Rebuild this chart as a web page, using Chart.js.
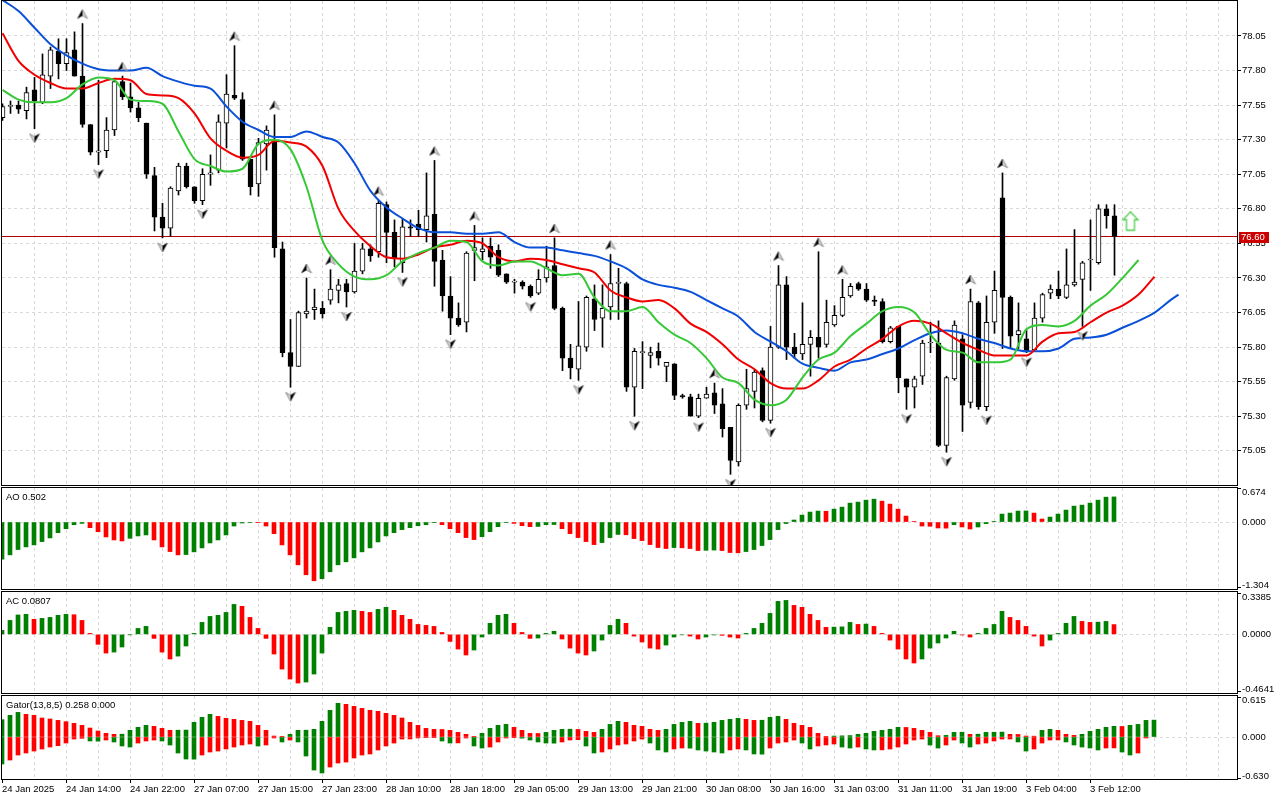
<!DOCTYPE html>
<html>
<head>
<meta charset="utf-8">
<title>H1 chart with Alligator, AO, AC, Gator</title>
<script src="https://cdn.jsdelivr.net/npm/chart.js"></script>
<style>
  html, body { margin: 0; padding: 0; background: #fff; }
  #chart { position: relative; width: 1280px; height: 800px; overflow: hidden; }
  #chart canvas { position: absolute; left: 0; }
  .title { position: absolute; left: 6px; font: 9.5px "Liberation Sans", Arial, sans-serif; line-height: 11px; white-space: nowrap; color: #000; }
</style>
</head>
<body>
<div id="chart">
  <canvas id="price" width="1280" height="486" style="top:0"></canvas>
  <canvas id="ao" width="1280" height="104" style="top:486px"></canvas>
  <canvas id="ac" width="1280" height="104" style="top:590px"></canvas>
  <canvas id="gator" width="1280" height="106" style="top:694px"></canvas>
  <div class="title" id="t0" style="top:491px"></div>
  <div class="title" id="t1" style="top:595px"></div>
  <div class="title" id="t2" style="top:699px"></div>
</div>

<script>
  // one label every 8 bars, starting at bar 0
  const timeLabels = ['24 Jan 2025', '24 Jan 14:00', '24 Jan 22:00', '27 Jan 07:00', '27 Jan 15:00', '27 Jan 23:00',
    '28 Jan 10:00', '28 Jan 18:00', '29 Jan 05:00', '29 Jan 13:00', '29 Jan 21:00', '30 Jan 08:00',
    '30 Jan 16:00', '31 Jan 03:00', '31 Jan 11:00', '31 Jan 19:00', '3 Feb 04:00', '3 Feb 12:00'];
  const priceTicks = [78.05, 77.80, 77.55, 77.30, 77.05, 76.80, 76.55, 76.30, 76.05, 75.80, 75.55, 75.30, 75.05];
  const panelTitles = ['AO 0.502', 'AC 0.0807', 'Gator(13,8,5) 0.258 0.000'];
  const aoAxis = ['0.674', '0.000', '-1.304'];
  const acAxis = ['0.3385', '0.0000', '-0.4641'];
  const gatorAxis = ['0.615', '0.000', '-0.630'];

  const open = [
    77.46, 77.54, 77.55, 77.51, 77.66, 77.57, 77.76, 77.94, 77.85, 77.95,
    77.76, 77.41, 77.21, 77.22, 77.37, 77.72, 77.61, 77.53, 77.42, 77.04,
    76.74, 76.66, 76.93, 77.11, 76.96, 76.86, 77.05, 77.08, 77.42, 77.62,
    77.59, 77.16, 76.98, 77.27, 77.29, 76.51, 75.76, 75.66, 76.04, 76.07,
    76.08, 76.14, 76.21, 76.26, 76.20, 76.35, 76.51, 76.49, 76.83, 76.63,
    76.41, 76.67, 76.69, 76.65, 76.76, 76.43, 76.17, 76.01, 75.98, 76.50,
    76.49, 76.53, 76.50, 76.33, 76.27, 76.27, 76.24, 76.19, 76.30, 76.39,
    76.08, 75.72, 75.64, 75.80, 76.15, 76.01, 76.09, 76.26, 76.26, 75.51,
    75.76, 75.74, 75.77, 75.66, 75.68, 75.45, 75.44, 75.30, 75.43, 75.47,
    75.39, 75.22, 74.97, 75.38, 75.48, 75.63, 75.27, 75.80, 76.25, 75.80,
    75.75, 75.82, 75.87, 75.82, 75.96, 76.03, 76.17, 76.26, 76.22, 76.14,
    76.13, 75.84, 75.95, 75.57, 75.51, 75.59, 75.83, 75.83, 75.09, 75.57,
    75.86, 75.40, 76.12, 75.37, 75.98, 76.88, 76.16, 75.89, 75.86, 75.78,
    76.01, 76.19, 76.22, 76.16, 76.25, 76.29, 76.43, 76.41, 76.80, 76.75];
  const high = [
    77.56, 77.58, 77.58, 77.68, 77.75, 77.92, 77.97, 78.03, 78.03, 78.08,
    78.14, 77.41, 77.73, 77.46, 77.74, 77.76, 77.71, 77.57, 77.42, 77.10,
    76.84, 76.96, 77.13, 77.13, 76.96, 77.09, 77.19, 77.48, 77.77, 77.98,
    77.64, 77.16, 77.31, 77.40, 77.48, 76.56, 76.00, 76.06, 76.30, 76.22,
    76.13, 76.36, 76.29, 76.29, 76.55, 76.55, 76.54, 76.86, 76.85, 76.72,
    76.73, 76.72, 76.79, 77.06, 77.15, 76.50, 76.31, 76.12, 76.49, 76.68,
    76.59, 76.59, 76.54, 76.33, 76.29, 76.28, 76.25, 76.36, 76.53, 76.59,
    76.09, 75.82, 76.13, 76.17, 76.25, 76.25, 76.47, 76.37, 76.27, 75.79,
    75.84, 75.80, 75.83, 75.69, 75.68, 75.46, 75.46, 75.46, 75.51, 75.54,
    75.50, 75.22, 75.39, 75.64, 75.64, 75.65, 75.95, 76.39, 76.31, 75.90,
    76.12, 75.92, 76.49, 76.14, 76.10, 76.29, 76.26, 76.27, 76.26, 76.17,
    76.15, 75.95, 75.95, 75.57, 75.59, 75.85, 75.98, 75.99, 75.59, 75.99,
    75.89, 76.22, 76.13, 76.17, 76.35, 77.06, 76.17, 76.12, 75.92, 76.12,
    76.19, 76.25, 76.35, 76.51, 76.65, 76.42, 76.72, 76.83, 76.83, 76.83];
  const low = [
    77.44, 77.49, 77.49, 77.45, 77.38, 77.56, 77.67, 77.74, 77.80, 77.76,
    77.39, 77.19, 77.12, 77.17, 77.33, 77.59, 77.50, 77.43, 77.02, 76.64,
    76.59, 76.60, 76.90, 76.95, 76.84, 76.83, 76.97, 77.06, 77.24, 77.59,
    77.15, 76.90, 76.89, 77.08, 76.45, 75.73, 75.51, 75.66, 76.01, 76.00,
    76.01, 76.11, 76.12, 76.09, 76.19, 76.33, 76.42, 76.45, 76.41, 76.38,
    76.34, 76.60, 76.60, 76.56, 76.24, 76.06, 75.89, 75.95, 75.91, 76.28,
    76.43, 76.37, 76.31, 76.26, 76.19, 76.22, 76.16, 76.18, 76.27, 76.07,
    75.63, 75.57, 75.56, 75.77, 75.92, 75.80, 76.00, 76.00, 75.48, 75.30,
    75.50, 75.65, 75.67, 75.55, 75.42, 75.43, 75.30, 75.29, 75.43, 75.32,
    75.15, 74.88, 74.94, 75.35, 75.36, 75.26, 75.25, 75.79, 75.71, 75.72,
    75.71, 75.59, 75.72, 75.80, 75.95, 76.02, 76.16, 76.21, 76.13, 76.10,
    75.83, 75.83, 75.47, 75.35, 75.36, 75.53, 75.76, 75.08, 75.04, 75.56,
    75.19, 75.36, 75.35, 75.34, 75.90, 75.79, 75.79, 75.79, 75.76, 75.78,
    75.98, 76.15, 76.15, 76.15, 76.24, 75.95, 76.21, 76.40, 76.66, 76.32];
  const close = [
    77.54, 77.55, 77.52, 77.64, 77.58, 77.77, 77.95, 77.85, 77.93, 77.76,
    77.41, 77.21, 77.22, 77.37, 77.72, 77.61, 77.53, 77.46, 77.05, 76.74,
    76.66, 76.95, 77.11, 76.96, 76.86, 77.05, 77.06, 77.43, 77.63, 77.60,
    77.16, 76.96, 77.28, 77.37, 76.52, 75.76, 75.66, 76.05, 76.06, 76.09,
    76.04, 76.22, 76.25, 76.20, 76.35, 76.51, 76.46, 76.84, 76.63, 76.44,
    76.67, 76.66, 76.65, 76.75, 76.42, 76.17, 76.01, 75.96, 76.48, 76.52,
    76.51, 76.45, 76.32, 76.27, 76.27, 76.24, 76.17, 76.29, 76.38, 76.08,
    75.72, 75.65, 75.81, 76.16, 76.00, 76.08, 76.26, 76.27, 75.51, 75.77,
    75.76, 75.76, 75.72, 75.69, 75.45, 75.44, 75.30, 75.43, 75.46, 75.38,
    75.21, 74.98, 75.38, 75.50, 75.62, 75.27, 75.80, 76.25, 75.80, 75.75,
    75.82, 75.87, 75.80, 75.98, 76.03, 76.16, 76.24, 76.22, 76.14, 76.13,
    75.84, 75.94, 75.58, 75.51, 75.57, 75.83, 75.83, 75.09, 75.58, 75.96,
    75.38, 76.13, 75.37, 75.98, 76.21, 76.16, 75.88, 75.92, 75.77, 76.01,
    76.18, 76.22, 76.17, 76.25, 76.27, 76.41, 76.43, 76.80, 76.75, 76.60];

  // alligator, read every 2nd bar starting at bar 0 (already shifted forward)
  const jaw = [
    78.31, 78.23, 78.11, 77.99, 77.91, 77.85, 77.81, 77.80, 77.80, 77.82,
    77.76, 77.72, 77.69, 77.67, 77.54, 77.43, 77.37, 77.32, 77.32, 77.36,
    77.32, 77.28, 77.13, 76.93, 76.81, 76.73, 76.66, 76.63, 76.63, 76.62,
    76.62, 76.63, 76.56, 76.52, 76.52, 76.50, 76.48, 76.46, 76.42, 76.37,
    76.29, 76.25, 76.23, 76.20, 76.14, 76.08, 76.02, 75.91, 75.84, 75.77,
    75.68, 75.65, 75.63, 75.69, 75.71, 75.75, 75.79, 75.85, 75.90, 75.92,
    75.90, 75.86, 75.83, 75.79, 75.77, 75.77, 75.79, 75.86, 75.87, 75.89,
    75.94, 75.99, 76.05, 76.14];
  const jawEnd = 76.18;   // bar 147
  const teeth = [
    78.07, 77.87, 77.77, 77.71, 77.67, 77.67, 77.71, 77.74, 77.73, 77.63,
    77.62, 77.60, 77.49, 77.31, 77.22, 77.17, 77.19, 77.29, 77.28, 77.25,
    77.11, 76.80, 76.64, 76.53, 76.45, 76.44, 76.47, 76.52, 76.54, 76.57,
    76.55, 76.45, 76.42, 76.44, 76.43, 76.40, 76.37, 76.34, 76.21, 76.16,
    76.13, 76.14, 76.08, 75.97, 75.91, 75.82, 75.71, 75.64, 75.54, 75.50,
    75.50, 75.56, 75.66, 75.71, 75.79, 75.86, 75.95, 75.99, 75.97, 75.90,
    75.83, 75.78, 75.74, 75.74, 75.74, 75.84, 75.90, 75.91, 75.98, 76.05,
    76.10, 76.18, 76.31];
  const lips = [
    77.66, 77.59, 77.57, 77.57, 77.60, 77.70, 77.75, 77.73, 77.59, 77.58,
    77.56, 77.36, 77.16, 77.11, 77.07, 77.09, 77.27, 77.30, 77.23, 76.96,
    76.57, 76.40, 76.31, 76.29, 76.32, 76.42, 76.48, 76.52, 76.57, 76.56,
    76.42, 76.39, 76.42, 76.42, 76.37, 76.32, 76.33, 76.16, 76.06, 76.06,
    76.09, 75.98, 75.89, 75.83, 75.72, 75.58, 75.54, 75.42, 75.38, 75.42,
    75.58, 75.71, 75.76, 75.88, 75.97, 76.06, 76.09, 76.05, 75.89, 75.78,
    75.76, 75.69, 75.69, 75.71, 75.93, 75.96, 75.95, 75.99, 76.10, 76.18,
    76.30, 76.43];

  const fractalUp = [10, 15, 29, 34, 38, 41, 47, 54, 59, 69, 76, 89, 97, 102, 105, 121, 125];
  const fractalDown = [4, 12, 20, 25, 36, 43, 50, 56, 66, 72, 79, 87, 91, 96, 113, 118, 123, 128, 135];
  const signalBar = 141;
  const signalPrice = 76.71;

  const ao = [
    -0.742, -0.656, -0.550, -0.497, -0.457, -0.391, -0.318, -0.212, -0.133, -0.053,
    -0.027, -0.113, -0.192, -0.298, -0.358, -0.378, -0.325, -0.278, -0.258, -0.358,
    -0.497, -0.590, -0.656, -0.650, -0.596, -0.517, -0.418, -0.358, -0.258, -0.080,
    -0.020, -0.012, -0.013, -0.080, -0.232, -0.457, -0.656, -0.855, -1.054, -1.173,
    -1.133, -0.994, -0.855, -0.795, -0.716, -0.596, -0.517, -0.398, -0.278, -0.212,
    -0.152, -0.113, -0.073, -0.053, -0.013, -0.053, -0.133, -0.212, -0.311, -0.351,
    -0.292, -0.192, -0.093, -0.013, -0.027, -0.073, -0.093, -0.088, -0.053, -0.050,
    -0.133, -0.232, -0.311, -0.391, -0.451, -0.411, -0.311, -0.248, -0.255, -0.331,
    -0.371, -0.451, -0.510, -0.530, -0.510, -0.515, -0.530, -0.570, -0.565, -0.560,
    -0.570, -0.610, -0.615, -0.590, -0.550, -0.470, -0.351, -0.152, -0.030, 0.040,
    0.139, 0.199, 0.219, 0.215, 0.258, 0.298, 0.378, 0.398, 0.437, 0.457,
    0.417, 0.358, 0.258, 0.119, 0.007, -0.080, -0.085, -0.119, -0.122, -0.053,
    -0.099, -0.139, -0.099, -0.033, 0.007, 0.159, 0.179, 0.219, 0.222, 0.179,
    0.060, 0.099, 0.159, 0.239, 0.318, 0.338, 0.378, 0.437, 0.497, 0.502];
  const ac = [
    0.033, 0.115, 0.160, 0.165, 0.124, 0.132, 0.140, 0.157, 0.165, 0.162,
    0.115, 0.008, -0.082, -0.154, -0.146, -0.104, -0.003, 0.049, 0.066, -0.033,
    -0.146, -0.203, -0.179, -0.096, 0.008, 0.099, 0.148, 0.157, 0.181, 0.247,
    0.231, 0.140, 0.049, -0.033, -0.162, -0.286, -0.368, -0.401, -0.393, -0.327,
    -0.154, 0.058, 0.181, 0.190, 0.198, 0.190, 0.181, 0.206, 0.223, 0.198,
    0.157, 0.124, 0.082, 0.074, 0.066, 0.016, -0.058, -0.121, -0.170, -0.129,
    -0.022, 0.091, 0.157, 0.165, 0.091, 0.016, -0.033, -0.030, 0.008, 0.025,
    -0.038, -0.113, -0.154, -0.170, -0.137, -0.047, 0.074, 0.124, 0.091, -0.014,
    -0.063, -0.113, -0.121, -0.088, -0.022, -0.004, -0.014, -0.038, -0.022, -0.005,
    -0.008, -0.022, -0.030, 0.008, 0.049, 0.091, 0.173, 0.272, 0.280, 0.239,
    0.223, 0.165, 0.115, 0.058, 0.060, 0.062, 0.099, 0.082, 0.085, 0.066,
    0.008, -0.047, -0.121, -0.203, -0.236, -0.203, -0.113, -0.071, -0.030, 0.025,
    -0.005, -0.022, 0.008, 0.049, 0.082, 0.190, 0.140, 0.115, 0.066, -0.014,
    -0.096, -0.047, 0.008, 0.091, 0.148, 0.107, 0.099, 0.101, 0.107, 0.0807];
  const gatorUp = [
    0.265, 0.331, 0.376, 0.346, 0.331, 0.290, 0.275, 0.254, 0.234, 0.209,
    0.178, 0.137, 0.092, 0.056, 0.041, 0.043, 0.102, 0.148, 0.178, 0.163,
    0.132, 0.102, 0.104, 0.106, 0.224, 0.300, 0.346, 0.315, 0.285, 0.270,
    0.254, 0.239, 0.178, 0.102, 0.015, 0.010, 0.041, 0.102, 0.104, 0.117,
    0.239, 0.407, 0.514, 0.499, 0.468, 0.437, 0.407, 0.392, 0.361, 0.331,
    0.290, 0.224, 0.178, 0.132, 0.117, 0.115, 0.102, 0.071, 0.041, 0.010,
    0.056, 0.132, 0.178, 0.193, 0.148, 0.102, 0.056, 0.054, 0.071, 0.102,
    0.117, 0.119, 0.115, 0.087, 0.071, 0.117, 0.193, 0.239, 0.224, 0.178,
    0.163, 0.117, 0.102, 0.117, 0.193, 0.224, 0.239, 0.209, 0.211, 0.224,
    0.254, 0.270, 0.285, 0.270, 0.254, 0.256, 0.300, 0.315, 0.270, 0.209,
    0.178, 0.148, 0.056, 0.005, 0.015, 0.018, 0.022, 0.041, 0.056, 0.087,
    0.102, 0.117, 0.148, 0.146, 0.132, 0.102, 0.071, 0.020, 0.025, 0.071,
    0.073, 0.041, 0.043, 0.071, 0.073, 0.075, 0.041, 0.039, 0.015, 0.013,
    0.102, 0.117, 0.102, 0.041, 0.025, 0.041, 0.087, 0.117, 0.148, 0.163,
    0.161, 0.178, 0.193, 0.254, 0.258];
  const gatorDown = [
    -0.412, -0.351, -0.275, -0.244, -0.214, -0.183, -0.153, -0.132, -0.092, -0.031,
    -0.020, -0.061, -0.063, -0.046, -0.076, -0.137, -0.153, -0.092, -0.061, -0.046,
    -0.061, -0.122, -0.244, -0.336, -0.338, -0.275, -0.229, -0.214, -0.183, -0.153,
    -0.122, -0.107, -0.137, -0.122, -0.015, -0.076, -0.046, -0.076, -0.290, -0.504,
    -0.549, -0.458, -0.397, -0.382, -0.320, -0.275, -0.259, -0.198, -0.137, -0.092,
    -0.031, -0.030, -0.015, -0.010, -0.010, -0.061, -0.092, -0.090, -0.015, -0.137,
    -0.168, -0.153, -0.076, -0.015, -0.003, -0.018, -0.046, -0.076, -0.092, -0.094,
    -0.076, -0.046, -0.040, -0.137, -0.244, -0.229, -0.183, -0.122, -0.107, -0.061,
    -0.031, -0.092, -0.198, -0.229, -0.183, -0.168, -0.170, -0.198, -0.214, -0.229,
    -0.244, -0.198, -0.183, -0.198, -0.259, -0.262, -0.168, -0.092, -0.076, -0.046,
    -0.092, -0.183, -0.137, -0.122, -0.107, -0.153, -0.168, -0.153, -0.183, -0.198,
    -0.196, -0.183, -0.153, -0.107, -0.046, -0.031, -0.122, -0.168, -0.122, -0.046,
    -0.092, -0.153, -0.107, -0.092, -0.061, -0.031, -0.030, -0.076, -0.214, -0.183,
    -0.092, -0.046, -0.044, -0.076, -0.122, -0.153, -0.168, -0.198, -0.168, -0.166,
    -0.229, -0.275, -0.244, -0.015];

  const GREEN = '#008000';
  const RED = '#ff0000';
  const GRID = '#d9d9d9';
  const FONT_FAMILY = '"Liberation Sans", Arial, sans-serif';
  const FONT = '9.5px ' + FONT_FAMILY;
  const BAR_PX = 8;
  const PLOT_W = 1235;

  Chart.defaults.font.family = FONT_FAMILY;
  Chart.defaults.font.size = 9.5;
  Chart.defaults.color = '#000';

  const frame = {
    id: 'frame',
    afterDraw(chart) {
      const { ctx, chartArea: a } = chart;
      ctx.save();
      ctx.strokeStyle = '#000';
      ctx.lineWidth = 1;
      ctx.strokeRect(a.left - 0.5, a.top - 0.5, a.right - a.left + 1, a.bottom - a.top + 1);
      ctx.restore();
    }
  };

  // min/zero/max labels on the right of an indicator panel
  const sideLabels = (labels) => ({
    id: 'sideLabels',
    afterDraw(chart) {
      const { ctx, chartArea: a, scales: { y } } = chart;
      ctx.save();
      ctx.font = FONT;
      ctx.fillStyle = '#000';
      ctx.strokeStyle = '#000';
      labels.forEach((txt, i) => {
        const py = y.getPixelForValue(parseFloat(txt));
        if (i === 0) {
          ctx.textBaseline = 'top';
          ctx.fillText(txt, a.right + 5, py - 1);
        } else if (i === labels.length - 1) {
          ctx.textBaseline = 'bottom';
          ctx.fillText(txt, a.right + 5, py + 3);
        } else {
          ctx.textBaseline = 'middle';
          ctx.fillText(txt, a.right + 5, py);
        }
        if (i !== 1) {
          const yy = Math.round(py) + 0.5;
          ctx.beginPath();
          ctx.moveTo(a.right, yy);
          ctx.lineTo(a.right + 4, yy);
          ctx.stroke();
        }
      });
      ctx.restore();
    }
  });

  const priceTag = {
    id: 'priceTag',
    afterDraw(chart) {
      const { ctx, chartArea: a, scales: { y } } = chart;
      const last = close[close.length - 1];
      const py = Math.round(y.getPixelForValue(last));
      ctx.save();
      ctx.fillStyle = '#cc0000';
      ctx.fillRect(a.right + 2, py - 5, 30, 11);
      ctx.fillStyle = '#fff';
      ctx.font = FONT;
      ctx.textBaseline = 'middle';
      ctx.fillText(last.toFixed(2), a.right + 4, py + 0.5);
      ctx.restore();
    }
  };

  function xScale(min, showLabels) {
    const max = min + PLOT_W / BAR_PX;
    return {
      type: 'linear', min, max, offset: false,
      afterBuildTicks: s => {
        const t = [];
        for (let v = 0; v <= max; v += 4) t.push({ value: v });
        s.ticks = t;
      },
      grid: {
        offset: false,
        lineWidth: 1,
        color: c => (c.tick && c.tick.value === 0) ? 'rgba(0,0,0,0)' : GRID,
        drawTicks: showLabels,
        tickLength: 4,
        tickBorderDash: [],
        tickColor: c => (c.tick && c.tick.value % 8 === 0 && timeLabels[c.tick.value / 8]) ? '#000' : 'rgba(0,0,0,0)'
      },
      border: { display: false, dash: [3, 3] },
      ticks: {
        display: showLabels, autoSkip: false, maxRotation: 0, minRotation: 0, align: 'start', padding: 1,
        font: { size: 9.5 }, color: '#000',
        callback: v => (v % 8 === 0 && timeLabels[v / 8]) ? timeLabels[v / 8] : ''
      },
      afterFit: s => {
        s.height = showLabels ? 21 : 0;
        s.paddingLeft = 0; s.paddingRight = 0;
      }
    };
  }

  // fixed-width right axis, no extra room for half labels
  const fitRightAxis = s => {
    s.width = 43;
    s.paddingTop = 0; s.paddingBottom = 0;
  };

  const base = {
    responsive: false,
    animation: false,
    devicePixelRatio: 1,
    events: [],
    plugins: { legend: { display: false }, tooltip: { enabled: false } }
  };

  function arrowIcon(up) {
    const c = document.createElement('canvas');
    c.width = 12; c.height = 40;
    const g = c.getContext('2d');
    const d = up ? 1 : -1;
    g.translate(6, up ? 11 : 29);
    g.beginPath();
    g.moveTo(0, -5 * d); g.lineTo(5, 4 * d); g.lineTo(0, 1 * d); g.lineTo(-5, 4 * d); g.closePath();
    g.fillStyle = '#d4d4d4'; g.fill();
    g.strokeStyle = '#909090'; g.lineWidth = 1; g.stroke();
    g.beginPath();
    g.moveTo(0, -5 * d); g.lineTo(up ? -5 : 5, 4 * d); g.lineTo(0, 1 * d); g.closePath();
    g.fillStyle = '#000'; g.fill();
    return c;
  }

  function signalIcon() {
    const c = document.createElement('canvas');
    c.width = 20; c.height = 22;
    const g = c.getContext('2d');
    g.translate(10, 11);
    g.beginPath();
    g.moveTo(0, -9.5); g.lineTo(7.5, -1.5); g.lineTo(4, -1.5); g.lineTo(4, 9); g.lineTo(-4, 9);
    g.lineTo(-4, -1.5); g.lineTo(-7.5, -1.5); g.closePath();
    g.strokeStyle = '#4fcf4f'; g.lineWidth = 1.3; g.stroke();
    return c;
  }

  // ---------- price panel ----------
  const P_MIN = -0.0625;
  const P_MAX = P_MIN + PLOT_W / BAR_PX;
  const bars = close.map((_, k) => k);
  const alligator = (vals, color, order, end) => {
    const pts = vals.map((v, i) => ({ x: i * 2, y: v }));
    if (end) pts.push(end);
    return {
      type: 'line', data: pts, borderColor: color, borderWidth: 2, pointRadius: 0,
      cubicInterpolationMode: 'monotone', order
    };
  };

  new Chart(document.getElementById('price'), {
    type: 'bar',
    data: {
      datasets: [
        {
          type: 'line', order: 7, borderColor: '#b40000', borderWidth: 1, pointRadius: 0,
          data: [{ x: P_MIN, y: close[close.length - 1] }, { x: P_MAX, y: close[close.length - 1] }]
        },
        {
          type: 'bar', order: 6, grouped: false, barThickness: 1, backgroundColor: '#000', borderWidth: 0,
          data: bars.map(k => ({ x: k, y: [low[k], high[k]] }))
        },
        {
          type: 'bar', order: 5, grouped: false, barThickness: 5, minBarLength: 1,
          borderWidth: 1, borderColor: '#000', borderSkipped: false,
          backgroundColor: bars.map(k => close[k] >= open[k] ? '#fff' : '#000'),
          data: bars.map(k => ({ x: k, y: [open[k], close[k]] }))
        },
        alligator(jaw, '#0b50d8', 4, { x: 147, y: jawEnd }),
        alligator(teeth, '#f00000', 3),
        alligator(lips, '#36c836', 2),
        {
          type: 'line', order: 1, showLine: false, pointRadius: 5, pointStyle: arrowIcon(true),
          data: fractalUp.map(k => ({ x: k, y: high[k] }))
        },
        {
          type: 'line', order: 1, showLine: false, pointRadius: 5, pointStyle: arrowIcon(false),
          data: fractalDown.map(k => ({ x: k, y: low[k] }))
        },
        {
          type: 'line', order: 0, showLine: false, pointRadius: 5, pointStyle: signalIcon(),
          data: [{ x: signalBar, y: signalPrice }]
        }
      ]
    },
    options: {
      ...base,
      layout: { autoPadding: false, padding: { left: 2, top: 1, bottom: 1, right: 0 } },
      scales: {
        x: xScale(P_MIN, false),
        y: {
          type: 'linear', position: 'right', min: 74.803, max: 78.303,
          afterBuildTicks: s => { s.ticks = priceTicks.map(v => ({ value: v })); },
          grid: { color: GRID, drawTicks: true, tickLength: 4, tickColor: '#000', tickBorderDash: [] },
          border: { display: false, dash: [3, 3] },
          ticks: { color: '#000', padding: 1, font: { size: 9.5 }, callback: v => Number(v).toFixed(2) },
          afterFit: fitRightAxis
        }
      }
    },
    plugins: [frame, priceTag]
  });

  // ---------- indicator panels ----------
  const I_MIN = 0;
  const rising = (vals, absolute) => vals.map((v, i) => {
    if (i === 0) return GREEN;
    const a = absolute ? Math.abs(v) : v;
    const b = absolute ? Math.abs(vals[i - 1]) : vals[i - 1];
    return a > b ? GREEN : RED;
  });
  const histogram = (vals, absolute) => ({
    type: 'bar', grouped: false, barThickness: 4, borderWidth: 0,
    backgroundColor: rising(vals, absolute),
    data: vals.map((v, k) => ({ x: k, y: v }))
  });

  function panel(id, datasets, min, max, labels, showX) {
    return new Chart(document.getElementById(id), {
      type: 'bar',
      data: { datasets },
      options: {
        ...base,
        layout: { autoPadding: false, padding: { left: 2, top: 2, bottom: showX ? 0 : 1, right: 0 } },
        scales: {
          x: xScale(I_MIN, showX),
          y: {
            type: 'linear', position: 'right', min, max,
            afterBuildTicks: s => { s.ticks = [{ value: 0 }]; },
            grid: { color: GRID, drawTicks: false },
            border: { display: false, dash: [3, 3] },
            ticks: { display: false },
            afterFit: fitRightAxis
          }
        }
      },
      plugins: [frame, sideLabels(labels)]
    });
  }

  panel('ao', [histogram(ao, false)], -1.338, 0.680, aoAxis, false);
  panel('ac', [histogram(ac, false)], -0.483, 0.3492, acAxis, false);
  panel('gator', [histogram(gatorUp, false), histogram(gatorDown, true)], -0.6406, 0.6257, gatorAxis, true);

  panelTitles.forEach((t, i) => { document.getElementById('t' + i).textContent = t; });
</script>
</body>
</html>
